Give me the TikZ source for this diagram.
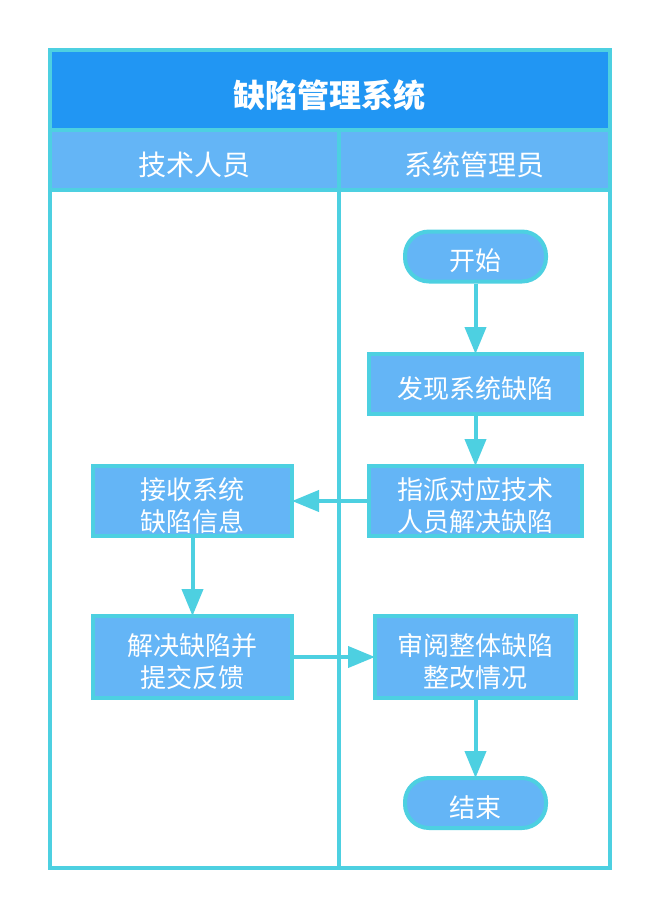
\documentclass[tikz,border=0pt]{standalone}
\usepackage{fontspec}
\setmainfont{Noto Sans CJK SC}
\usetikzlibrary{arrows.meta}
\definecolor{linecyan}{HTML}{4DD0E1}
\definecolor{titleblue}{HTML}{2196F3}
\definecolor{boxblue}{HTML}{64B5F6}
\newcommand{\lowerline}{\rule{0pt}{\dimexpr.88em+3pt\relax}}
\tikzset{
  cell/.style={draw=linecyan, line width=2pt, fill=boxblue, text=white, inner sep=0pt, align=center,
    text depth=0pt, font=\fontsize{13pt}{16pt}\selectfont},
  lane/.style={draw=linecyan, line width=2pt, inner sep=0pt},
  lanehead/.style={cell, minimum height=30pt, font=\fontsize{14pt}{16pt}\selectfont},
  terminal/.style={cell, rounded corners=12pt, minimum width=70.5pt, minimum height=25pt},
  flow/.style={draw=linecyan, line width=2pt, shorten >=-1pt, -{Triangle[length=13.5pt, width=10.5pt]}},
}
\begin{document}
\begin{tikzpicture}[x=0.5pt, y=-0.5pt]
            \useasboundingbox [fill=white] (0,0) rectangle (661,918);

            \node [lane, minimum width=144.5pt, minimum height=339pt] (lane1) at (194.5,529) {};
            \node [lane, minimum width=135.5pt, minimum height=339pt] (lane2) at (474.5,529) {};
            \node [cell, fill=titleblue, minimum width=280pt, minimum height=40pt,
                   font=\fontsize{16pt}{18pt}\selectfont\bfseries] (title) at (330,90) {\lowerline 缺陷管理系统};
            \node [lanehead, minimum width=144.5pt] (head1) at (194.5,160) {\lowerline 技术人员};
            \node [lanehead, minimum width=135.5pt] (head2) at (474.5,160) {\lowerline 系统管理员};

            \node [terminal] (start) at (475.5,256.5) {\lowerline 开始};
            \node [cell, minimum width=106.5pt, minimum height=30pt] (find) at (475.5,384) {\lowerline 发现系统缺陷};
            \node [cell, minimum width=106.5pt, minimum height=35pt] (assign) at (475.5,501) {\lowerline 指派对应技术\\人员解决缺陷};
            \node [cell, minimum width=99.5pt, minimum height=35pt] (receive) at (192.5,501) {\lowerline 接收系统\\缺陷信息};
            \node [cell, minimum width=99.5pt, minimum height=41pt] (solve) at (192.5,657) {\lowerline 解决缺陷并\\提交反馈};
            \node [cell, minimum width=100.5pt, minimum height=41pt] (review) at (475.5,657) {\lowerline 审阅整体缺陷\\整改情况};
            \node [terminal] (stop) at (475.5,803) {\lowerline 结束};

            \draw [flow] (start) -- (find);
            \draw [flow] (find) -- (assign);
            \draw [flow] (assign) -- (receive);
            \draw [flow] (receive) -- (solve);
            \draw [flow] (solve) -- (review);
            \draw [flow] (review) -- (stop);
        \end{tikzpicture}
\end{document}
